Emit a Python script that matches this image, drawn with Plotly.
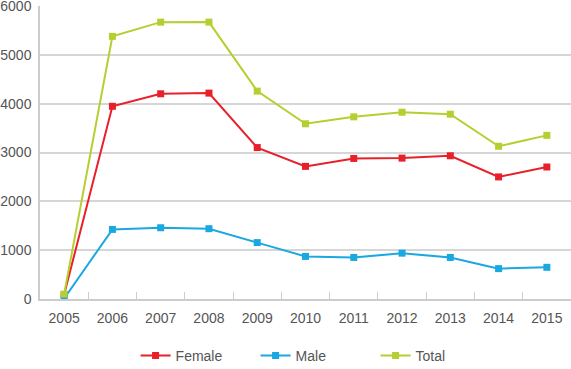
import plotly.graph_objects as go

years = ["2005", "2006", "2007", "2008", "2009", "2010", "2011", "2012", "2013", "2014", "2015"]
female = [90, 3946, 4202, 4216, 3101, 2716, 2878, 2885, 2933, 2500, 2703]
male = [10, 1425, 1459, 1440, 1155, 872, 851, 939, 851, 622, 649]
total = [100, 5378, 5669, 5670, 4257, 3588, 3730, 3825, 3784, 3128, 3351]

series = [("Female", female, "#e8202a"), ("Male", male, "#1aa8e0"), ("Total", total, "#b5cf30")]

fig = go.Figure()
for name, vals, col in series:
    fig.add_trace(go.Scatter(
        x=years, y=vals, name=name, mode="lines+markers",
        line=dict(color=col, width=2),
        marker=dict(symbol="square", size=7, color=col),
    ))

fig.update_layout(
    width=571, height=369,
    margin=dict(l=40, r=0, t=6, b=70, autoexpand=False),
    paper_bgcolor="white", plot_bgcolor="white",
    font=dict(family="Liberation Sans, Arial, sans-serif", size=14, color="#555555"),
    showlegend=True,
    legend=dict(orientation="h", x=0.18, xanchor="left", y=-0.14, yanchor="top",
                entrywidth=75, entrywidthmode="pixels", font=dict(size=14, color="#555555"),
                itemwidth=30, tracegroupgap=0),
    xaxis=dict(type="category", range=[-0.5, 10.5], showgrid=False, automargin=False,
               showline=True, linecolor="#cccccc", linewidth=1.5, ticklabeloverflow="allow",
               ticks="inside", tickson="boundaries", ticklen=7, tickcolor="#cccccc", tickwidth=1,
               ticklabelstandoff=5,
               tickfont=dict(size=14, color="#555555")),
    yaxis=dict(range=[0, 6000], dtick=1000, showgrid=True, gridcolor="#d6d6d6", gridwidth=1.5,
               showline=True, linecolor="#cccccc", linewidth=1.5, zeroline=False, automargin=False,
               ticklabeloverflow="allow", ticklabelstandoff=4,
               ticks="", tickfont=dict(size=14, color="#555555")),
)

fig.write_html("out.html", config={"displayModeBar": False},
               post_script="document.body.style.margin='0';document.body.style.padding='0';")
